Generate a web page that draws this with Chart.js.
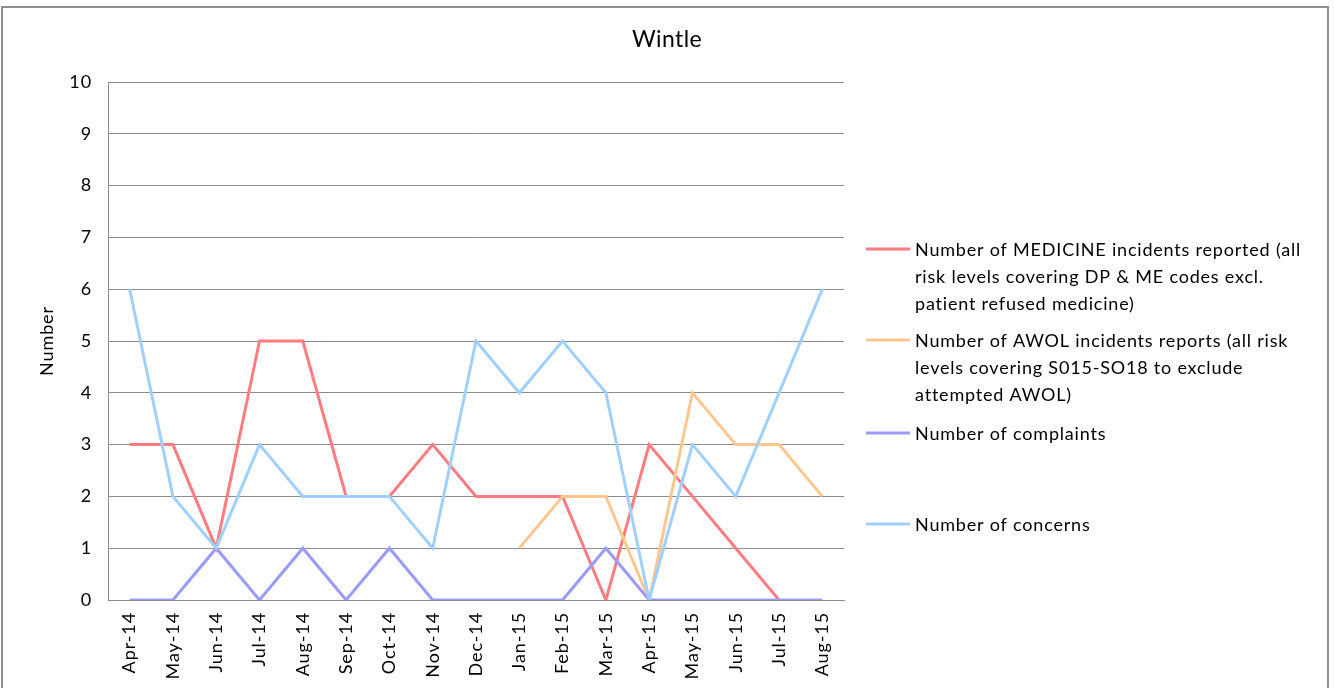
<!DOCTYPE html>
<html>
<head>
<meta charset="utf-8">
<title>Wintle</title>
<script src="https://cdn.jsdelivr.net/npm/chart.js@4/dist/chart.umd.min.js"></script>
<style>
  html, body { margin: 0; padding: 0; background: #ffffff; }
  #wrap { width: 1334px; height: 688px; }
</style>
</head>
<body>
<div id="wrap"><canvas id="chart" width="1334" height="688"></canvas></div>
<script>
// Monthly figures for Wintle, Apr-14 to Aug-15
const categories = ['Apr-14', 'May-14', 'Jun-14', 'Jul-14', 'Aug-14', 'Sep-14', 'Oct-14', 'Nov-14',
  'Dec-14', 'Jan-15', 'Feb-15', 'Mar-15', 'Apr-15', 'May-15', 'Jun-15', 'Jul-15', 'Aug-15'];
const medicineIncidents = [3, 3, 1, 5, 5, 2, 2, 3, 2, 2, 2, 0, 3, 2, 1, 0, null];
const awolIncidents = [null, null, null, null, null, null, null, null, null, 1, 2, 2, 0, 4, 3, 3, 2];
const complaints = [0, 0, 1, 0, 1, 0, 1, 0, 0, 0, 0, 1, 0, 0, 0, 0, 0];
const concerns = [6, 2, 1, 3, 2, 2, 2, 1, 5, 4, 5, 4, 0, 3, 2, 4, 6];

const chartTitle = 'Wintle';
const yAxisTitle = 'Number';
const yTicks = [0, 1, 2, 3, 4, 5, 6, 7, 8, 9, 10];

// Legend captions, already broken into the lines they are shown on
const medicineLabel = ['Number of MEDICINE incidents reported (all', 'risk levels covering DP & ME codes excl.', 'patient refused medicine)'];
const awolLabel = ['Number of AWOL incidents reports (all risk', 'levels covering S015-SO18 to exclude', 'attempted AWOL)'];
const complaintsLabel = ['Number of complaints'];
const concernsLabel = ['Number of concerns'];

const FONT = 'Lato, "Open Sans", sans-serif';
const GRID = '#8c8c8c';
const SPACING = '0.9px';

const series = [
  { label: medicineLabel, data: medicineIncidents, color: '#ff7c80', legendY: 249 },
  { label: awolLabel, data: awolIncidents, color: '#ffc78e', legendY: 340 },
  { label: complaintsLabel, data: complaints, color: '#9b9bff', legendY: 433 },
  { label: concernsLabel, data: concerns, color: '#9fd0ff', legendY: 524 }
];

// White page, outer frame, title and the wrapped legend on the right
const decorations = {
  id: 'decorations',
  beforeDraw(chart) {
    const ctx = chart.ctx;
    ctx.letterSpacing = SPACING;
    ctx.save();
    ctx.fillStyle = '#ffffff';
    ctx.fillRect(0, 0, chart.width, chart.height);
    ctx.strokeStyle = '#8f8f8f';
    ctx.lineWidth = 2;
    ctx.strokeRect(2, 7, 1326, 700);
    ctx.restore();
  },
  afterDraw(chart) {
    const ctx = chart.ctx;
    ctx.save();
    ctx.fillStyle = '#000000';
    ctx.letterSpacing = '0.4px';
    ctx.font = '23px ' + FONT;
    ctx.textAlign = 'center';
    ctx.textBaseline = 'middle';
    ctx.fillText(chartTitle, 667, 40);

    ctx.letterSpacing = '0.8px';
    ctx.font = '18px ' + FONT;
    ctx.textAlign = 'left';
    series.forEach(s => {
      ctx.strokeStyle = s.color;
      ctx.lineWidth = 3;
      ctx.beginPath();
      ctx.moveTo(866, s.legendY);
      ctx.lineTo(910, s.legendY);
      ctx.stroke();
      s.label.forEach((line, i) => {
        ctx.fillText(line, 915, s.legendY + 1 + i * 27);
      });
    });
    ctx.restore();
  }
};

new Chart(document.getElementById('chart'), {
  type: 'line',
  data: {
    labels: categories,
    datasets: series.map((s, i) => ({
      label: s.label.join(' '),
      data: s.data,
      borderColor: s.color,
      backgroundColor: s.color,
      borderWidth: 3,
      pointRadius: 0,
      tension: 0,
      spanGaps: false,
      order: series.length - i
    }))
  },
  options: {
    responsive: false,
    devicePixelRatio: 1,
    animation: false,
    layout: { padding: { top: 82, right: 490, left: 0, bottom: 0 } },
    plugins: {
      legend: { display: false },
      title: { display: false },
      tooltip: { enabled: false }
    },
    scales: {
      x: {
        offset: true,
        grid: { display: false, drawTicks: false },
        border: { display: true, color: GRID, width: 1 },
        ticks: {
          color: '#000000',
          font: { family: FONT, size: 18 },
          minRotation: 90,
          maxRotation: 90,
          padding: 12,
          autoSkip: false
        },
        afterFit(scale) { scale.height = 88; }
      },
      y: {
        min: 0,
        max: 10,
        afterBuildTicks(scale) { scale.ticks = yTicks.map(v => ({ value: v })); },
        grid: { color: GRID, lineWidth: 1, drawTicks: false },
        border: { display: true, color: GRID, width: 1 },
        ticks: {
          color: '#000000',
          font: { family: FONT, size: 18 },
          padding: 16
        },
        title: {
          display: true,
          text: yAxisTitle,
          color: '#000000',
          font: { family: FONT, size: 18 },
          padding: { top: 36, bottom: 0 }
        },
        afterFit(scale) { scale.width = 108; }
      }
    }
  },
  plugins: [decorations]
});
</script>
</body>
</html>
